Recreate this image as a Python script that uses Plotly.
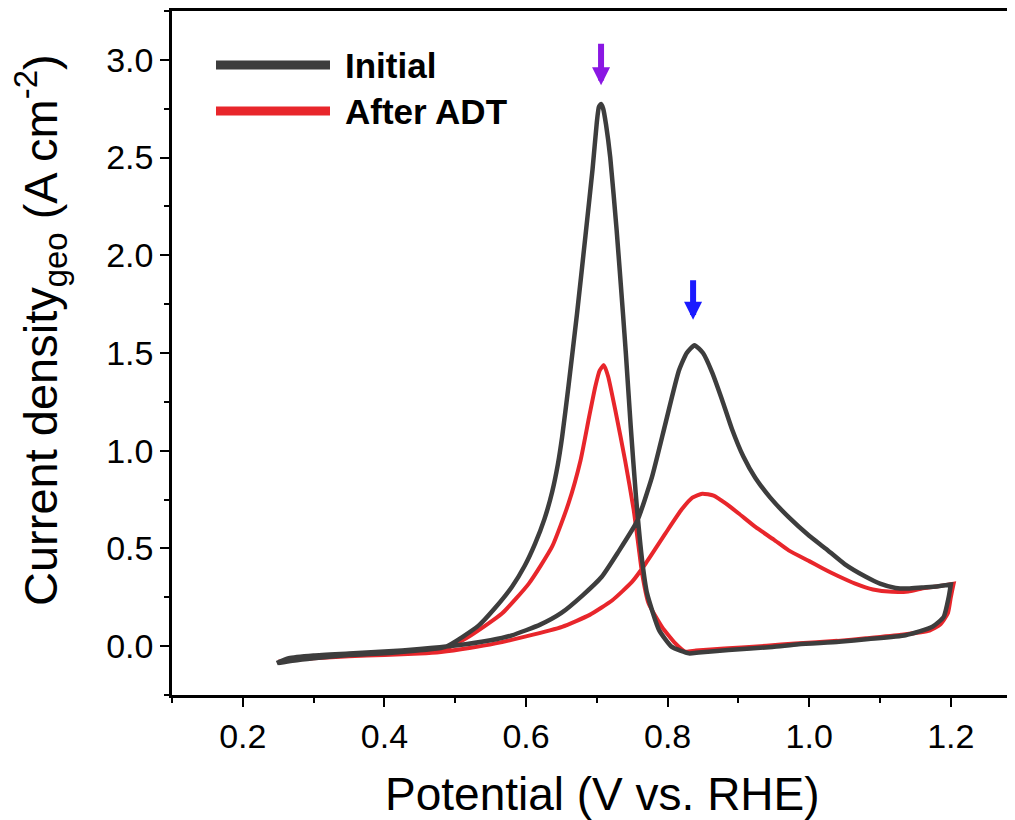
import plotly.graph_objects as go

# ---------------- data ----------------
initial_fwd_v = [0.248, 0.265, 0.30, 0.35, 0.40, 0.45, 0.50, 0.55, 0.58, 0.62, 0.65, 0.68, 0.707,
                 0.73, 0.757, 0.778, 0.797, 0.816, 0.827, 0.838, 0.850, 0.863, 0.877, 0.891,
                 0.907, 0.924, 0.945, 0.971, 1.0, 1.023, 1.05, 1.08, 1.10, 1.122, 1.14, 1.159,
                 1.18, 1.2]
initial_fwd_j = [-0.087, -0.062, -0.048, -0.038, -0.028, -0.015, 0.003, 0.03, 0.055, 0.11, 0.17,
                 0.26, 0.355, 0.48, 0.64, 0.866, 1.14, 1.41, 1.50, 1.54, 1.50, 1.40, 1.26, 1.11,
                 0.97, 0.86, 0.76, 0.66, 0.565, 0.50, 0.42, 0.355, 0.32, 0.298, 0.295, 0.30,
                 0.305, 0.315]
initial_rev_v = [1.2, 1.197, 1.19, 1.174, 1.136, 1.084, 1.042, 0.985, 0.948, 0.886, 0.844, 0.83,
                 0.806, 0.788, 0.771, 0.764, 0.755, 0.748, 0.741, 0.737, 0.728, 0.719, 0.713,
                 0.709, 0.706, 0.703, 0.700, 0.694, 0.684, 0.672, 0.660, 0.651, 0.645, 0.637,
                 0.626, 0.613, 0.598, 0.580, 0.555, 0.533, 0.486, 0.42, 0.35, 0.30, 0.27, 0.25]
initial_rev_j = [0.315, 0.25, 0.15, 0.099, 0.056, 0.036, 0.022, 0.01, -0.004, -0.02, -0.033,
                 -0.037, -0.004, 0.082, 0.27, 0.44, 0.78, 1.12, 1.50, 1.70, 2.13, 2.50, 2.67,
                 2.75, 2.774, 2.76, 2.68, 2.44, 2.10, 1.70, 1.33, 1.07, 0.93, 0.79, 0.65, 0.526,
                 0.41, 0.303, 0.19, 0.105, -0.004, -0.031, -0.046, -0.062, -0.075, -0.087]

adt_fwd_v = [0.25, 0.27, 0.30, 0.35, 0.40, 0.45, 0.48, 0.52, 0.557, 0.60, 0.651, 0.69, 0.722,
             0.75, 0.769, 0.797, 0.82, 0.835, 0.849, 0.865, 0.882, 0.90, 0.924, 0.95, 0.971,
             1.0, 1.018, 1.04, 1.065, 1.09, 1.117, 1.14, 1.159, 1.18, 1.204]
adt_fwd_j = [-0.085, -0.07, -0.062, -0.052, -0.045, -0.038, -0.03, -0.01, 0.014, 0.05, 0.099,
             0.16, 0.235, 0.33, 0.423, 0.577, 0.70, 0.76, 0.78, 0.77, 0.73, 0.68, 0.61, 0.545,
             0.49, 0.435, 0.40, 0.36, 0.32, 0.29, 0.278, 0.28, 0.295, 0.305, 0.32]
adt_rev_v = [1.204, 1.200, 1.196, 1.185, 1.17, 1.13, 1.08, 1.04, 0.98, 0.94, 0.88, 0.84, 0.825,
             0.811, 0.792, 0.773, 0.764, 0.759, 0.752, 0.740, 0.726, 0.716, 0.710, 0.704, 0.698,
             0.689, 0.677, 0.660, 0.637, 0.604, 0.566, 0.519, 0.482, 0.45, 0.40, 0.35, 0.30,
             0.27, 0.25]
adt_rev_j = [0.32, 0.25, 0.17, 0.11, 0.08, 0.058, 0.04, 0.027, 0.014, 0.002, -0.012, -0.022,
             -0.028, 0.014, 0.099, 0.22, 0.372, 0.51, 0.70, 0.95, 1.21, 1.38, 1.438, 1.41, 1.33,
             1.17, 0.95, 0.73, 0.51, 0.32, 0.167, 0.048, -0.02, -0.03, -0.04, -0.048, -0.058,
             -0.068, -0.08]

series_names = ["Initial", "After ADT"]
series_colors = ["#3d3d3d", "#e8262b"]

# peak markers (arrows): (potential, tip current, tail current, colour)
peak_arrows = [(0.706, 2.87, 3.09, "#8a17e3"), (0.836, 1.67, 1.88, "#1a1aff")]

x_tickvals = [0.2, 0.4, 0.6, 0.8, 1.0, 1.2]
y_tickvals = [0.0, 0.5, 1.0, 1.5, 2.0, 2.5, 3.0]

x_title = "Potential (V vs. RHE)"
y_title = "Current density<sub>geo</sub> (A cm<sup>-2</sup>)"

# ---------------- layout geometry ----------------
OFF = 8                      # page body margin of the browser
W, H = 1015 - OFF, 820 - OFF
ML, MR, MT, MB = 172 - OFF, 0, 11 - OFF, 125
pw, ph = W - ML - MR, H - MT - MB


def px2paper(px, py):
    """window pixel -> paper coordinates"""
    fx, fy = px - OFF, py - OFF
    return (fx - ML) / pw, (H - MB - fy) / ph


FONT = "Liberation Sans, Arial"

fig = go.Figure()
fig.add_trace(go.Scatter(x=adt_fwd_v + adt_rev_v, y=adt_fwd_j + adt_rev_j, mode="lines",
                         name=series_names[1],
                         line=dict(color=series_colors[1], width=4, shape="spline", smoothing=0.5),
                         showlegend=False))
fig.add_trace(go.Scatter(x=initial_fwd_v + initial_rev_v, y=initial_fwd_j + initial_rev_j,
                         mode="lines", name=series_names[0],
                         line=dict(color=series_colors[0], width=4.5, shape="spline", smoothing=0.5),
                         showlegend=False))

shapes, annotations = [], []
for name, color, py in zip(series_names, series_colors, [65, 111]):
    x0, y0 = px2paper(216, py)
    x1, _ = px2paper(330, py)
    shapes.append(dict(type="line", xref="paper", yref="paper", x0=x0, x1=x1, y0=y0, y1=y0,
                       line=dict(color=color, width=9)))
    tx, ty = px2paper(343, py)
    annotations.append(dict(xref="paper", yref="paper", x=tx, y=ty, text=f"<b>{name}</b>",
                            showarrow=False, xanchor="left", yanchor="middle",
                            font=dict(family=FONT, size=35, color="black")))

for v, tip, tail, col in peak_arrows:
    annotations.append(dict(x=v, y=tip, ax=v, ay=tail, xref="x", yref="y", axref="x", ayref="y",
                            text="", showarrow=True, arrowhead=2, arrowsize=0.6, arrowwidth=6,
                            arrowcolor=col))

# axis titles
tx, ty = px2paper(602, 794)
annotations.append(dict(xref="paper", yref="paper", x=tx, y=ty, text=x_title, showarrow=False,
                        xanchor="center", yanchor="middle",
                        font=dict(family=FONT, size=46, color="black")))
tx, ty = px2paper(40, 330)
annotations.append(dict(xref="paper", yref="paper", x=tx, y=ty, text=y_title, showarrow=False,
                        textangle=-90, xanchor="center", yanchor="middle",
                        font=dict(family=FONT, size=47, color="black")))

fig.update_layout(
    width=W, height=H,
    margin=dict(l=ML, r=MR, t=MT, b=MB, autoexpand=False),
    plot_bgcolor="white", paper_bgcolor="white",
    font=dict(family=FONT, color="black"),
    shapes=shapes, annotations=annotations,
    showlegend=False,
)

fig.update_xaxes(
    range=[0.1, 0.1 + pw / 708.0], showgrid=False, zeroline=False,
    showline=True, linecolor="black", linewidth=2.5, mirror=True,
    ticks="outside", ticklen=9, tickwidth=2, tickcolor="black",
    tickvals=x_tickvals, tickformat=".1f", tickfont=dict(size=34),
    minor=dict(dtick=0.1, tick0=0.1, ticks="outside", ticklen=5, tickwidth=2, tickcolor="black",
               showgrid=False),
)
fig.update_yaxes(
    range=[-0.25, 3.25], showgrid=False, zeroline=False,
    showline=True, linecolor="black", linewidth=2.5, mirror=False,
    ticks="outside", ticklen=9, tickwidth=2, tickcolor="black",
    tickvals=y_tickvals, tickformat=".1f", tickfont=dict(size=34),
    minor=dict(dtick=0.25, tick0=0, ticks="outside", ticklen=5, tickwidth=2, tickcolor="black",
               showgrid=False),
)

fig.write_html("out.html")
